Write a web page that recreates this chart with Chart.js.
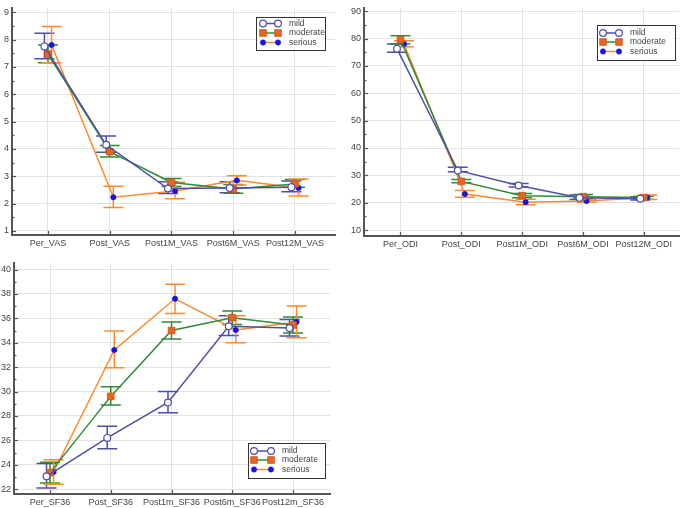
<!DOCTYPE html>
<html><head><meta charset="utf-8">
<script src="https://cdn.jsdelivr.net/npm/chart.js@4.4.1/dist/chart.umd.min.js"></script>
<style>
html,body{margin:0;padding:0;background:#fff;width:685px;height:508px;overflow:hidden}
.p{position:absolute}
</style></head><body>
<div class="p" style="left:0;top:0;width:345px;height:255px"><canvas id="c1" width="345" height="255"></canvas></div>
<div class="p" style="left:340px;top:0;width:345px;height:255px"><canvas id="c2" width="345" height="255"></canvas></div>
<div class="p" style="left:0;top:255px;width:345px;height:253px"><canvas id="c3" width="345" height="253"></canvas></div>
<script>
// ---------- data ----------
const seriesNames = ['mild', 'moderate', 'serious'];

const vasCategories = ['Per_VAS', 'Post_VAS', 'Post1M_VAS', 'Post6M_VAS', 'Post12M_VAS'];
const vasMild = [7.75, 4.15, 2.55, 2.57, 2.6];
const vasMildLow = [7.3, 3.88, 2.37, 2.4, 2.43];
const vasMildHigh = [8.23, 4.47, 2.8, 2.8, 2.83];
const vasModerate = [7.47, 3.9, 2.77, 2.53, 2.72];
const vasModerateLow = [7.15, 3.7, 2.62, 2.38, 2.6];
const vasModerateHigh = [7.8, 4.12, 2.92, 2.7, 2.88];
const vasSerious = [7.8, 2.23, 2.46, 2.85, 2.57];
const vasSeriousLow = [7.15, 1.86, 2.18, 2.68, 2.28];
const vasSeriousHigh = [8.48, 2.63, 2.78, 3.02, 2.9];
const vasTicks = {min: 0.85, max: 9.14, step: 1, minor: 0.5};

const odiCategories = ['Per_ODI', 'Post_ODI', 'Post1M_ODI', 'Post6M_ODI', 'Post12M_ODI'];
const odiMild = [76.3, 31.8, 26.3, 21.8, 21.5];
const odiMildLow = [75, 31.3, 25.8, 21.2, 21];
const odiMildHigh = [78, 33, 27, 22.8, 22.2];
const odiModerate = [79.6, 27.8, 22.6, 22.2, 21.9];
const odiModerateLow = [78, 27.3, 21.8, 21.5, 21.3];
const odiModerateHigh = [81, 28.5, 23.4, 23, 22.4];
const odiSerious = [78, 23.2, 20.2, 20.6, 21.9];
const odiSeriousLow = [77, 22, 19.3, 20.2, 21.2];
const odiSeriousHigh = [79.2, 24.5, 21.3, 21.2, 22.8];
const odiTicks = {min: 7.86, max: 91, step: 10, minor: 5};

const sfCategories = ['Per_SF36', 'Post_SF36', 'Post1m_SF36', 'Post6m_SF36', 'Post12m_SF36'];
const sfMild = [23.05, 26.2, 29.1, 35.35, 35.2];
const sfMildLow = [22.1, 25.3, 28.25, 34.6, 34.55];
const sfMildHigh = [24.1, 27.15, 30, 36.2, 35.9];
const sfModerate = [23.35, 29.6, 35, 36.05, 35.45];
const sfModerateLow = [22.5, 28.9, 34.3, 35.5, 34.8];
const sfModerateHigh = [24.2, 30.4, 35.7, 36.6, 36.1];
const sfSerious = [23.4, 33.4, 37.6, 35.05, 35.7];
const sfSeriousLow = [22.4, 31.95, 36.4, 34, 34.4];
const sfSeriousHigh = [24.4, 34.95, 38.8, 36.2, 37];
const sfTicks = {min: 21.6, max: 40.5, step: 2, minor: 1};

// ---------- styles ----------
const xOffsets = [-0.058, 0, 0.058];
const lineColors = ['#4e4eab', '#2e8b36', '#ff8a2e'];
const markerStyles = [
  {pointStyle: 'circle', radius: 3.4, bg: '#ffffff', border: '#4e4eab', bw: 1.2},
  {pointStyle: 'rect', radius: 4.7, bg: '#ec6420', border: '#c8501a', bw: 0.8},
  {pointStyle: 'circle', radius: 2.7, bg: '#1414e6', border: '#1414e6', bw: 0.5}
];

const FONT = {family: '"Liberation Sans", Arial, sans-serif', size: 9};
const LEGEND_FONT = '8.5px "Liberation Sans", Arial, sans-serif';
const TEXT = '#444444';

function buildDatasets(vals, lows, highs) {
  return vals.map((v, s) => ({
    label: seriesNames[s],
    data: v.map((y, i) => ({x: i + xOffsets[s], y: y})),
    errLow: lows[s], errHigh: highs[s],
    borderColor: lineColors[s], borderWidth: 1.5,
    pointStyle: markerStyles[s].pointStyle,
    pointRadius: markerStyles[s].radius,
    pointBackgroundColor: markerStyles[s].bg,
    pointBorderColor: markerStyles[s].border,
    pointBorderWidth: markerStyles[s].bw,
    tension: 0, fill: false
  }));
}

const errorBars = {
  id: 'errorBars',
  beforeDatasetsDraw(chart) {
    const ctx = chart.ctx, xs = chart.scales.x, ys = chart.scales.y;
    chart.data.datasets.forEach((ds) => {
      ctx.save();
      ctx.strokeStyle = ds.borderColor; ctx.lineWidth = 1.5;
      ds.data.forEach((p, i) => {
        const px = xs.getPixelForValue(p.x);
        const y1 = ys.getPixelForValue(ds.errLow[i]);
        const y2 = ys.getPixelForValue(ds.errHigh[i]);
        ctx.beginPath();
        ctx.moveTo(px, y1); ctx.lineTo(px, y2);
        ctx.moveTo(px - 10, y1); ctx.lineTo(px + 10, y1);
        ctx.moveTo(px - 10, y2); ctx.lineTo(px + 10, y2);
        ctx.stroke();
      });
      ctx.restore();
    });
  }
};

const axisTicks = {
  id: 'axisTicks',
  afterDraw(chart, args, opts) {
    const ctx = chart.ctx, xs = chart.scales.x, ys = chart.scales.y, a = chart.chartArea;
    ctx.save();
    ctx.strokeStyle = '#555'; ctx.lineWidth = 1.2;
    const t = opts.ticks;
    const start = Math.ceil(t.min / t.minor - 1e-9);
    for (let k = start; k * t.minor <= t.max + 1e-9; k++) {
      const v = k * t.minor;
      const py = Math.round(ys.getPixelForValue(v)) + 0.5;
      const major = Math.abs(v / t.step - Math.round(v / t.step)) < 1e-6;
      ctx.beginPath();
      ctx.moveTo(a.left, py); ctx.lineTo(a.left + (major ? 4 : 2.5), py);
      ctx.stroke();
    }
    for (let i = 0; i < opts.n; i++) {
      const px = Math.round(xs.getPixelForValue(i)) + 0.5;
      ctx.beginPath();
      ctx.moveTo(px, a.bottom); ctx.lineTo(px, a.bottom - 4);
      ctx.stroke();
    }
    ctx.restore();
  }
};

const boxLegend = {
  id: 'boxLegend',
  afterDraw(chart, args, o) {
    const ctx = chart.ctx;
    ctx.save();
    ctx.fillStyle = '#fff';
    ctx.fillRect(o.x, o.y, o.w, o.h);
    ctx.strokeStyle = '#333'; ctx.lineWidth = 1;
    ctx.strokeRect(o.x + 0.5, o.y + 0.5, o.w, o.h);
    seriesNames.forEach((name, s) => {
      const yy = o.rows[s];
      ctx.strokeStyle = lineColors[s]; ctx.lineWidth = 1.5;
      ctx.beginPath(); ctx.moveTo(o.m1, yy); ctx.lineTo(o.m2, yy); ctx.stroke();
      const m = markerStyles[s];
      [o.m1, o.m2].forEach(mx => {
        ctx.fillStyle = m.bg; ctx.strokeStyle = m.border; ctx.lineWidth = m.bw;
        Chart.helpers.drawPoint(ctx, {pointStyle: m.pointStyle, radius: m.radius, borderWidth: m.bw, rotation: 0}, mx, yy);
      });
      ctx.fillStyle = TEXT;
      ctx.font = LEGEND_FONT;
      ctx.textBaseline = 'middle';
      ctx.fillText(name, o.tx, yy);
    });
    ctx.restore();
  }
};

function makeChart(id, cats, datasets, t, geo, legend) {
  new Chart(document.getElementById(id), {
    type: 'line',
    data: {datasets: datasets},
    options: {
      responsive: false, animation: false, events: [],
      layout: {padding: {left: 0, right: geo.padRight, top: geo.padTop, bottom: 0}},
      plugins: {legend: {display: false}, tooltip: {enabled: false},
        axisTicks: {ticks: t, n: cats.length}, boxLegend: legend},
      scales: {
        x: {
          type: 'linear', min: geo.xmin, max: geo.xmax,
          afterBuildTicks: sc => { sc.ticks = cats.map((c, i) => ({value: i})); },
          afterFit: sc => { sc.height = geo.xh; },
          ticks: {callback: v => cats[v], autoSkip: false, maxRotation: 0, minRotation: 0,
                  font: FONT, color: TEXT, padding: 3},
          grid: {color: '#e2e2e2', lineWidth: 1, drawTicks: false},
          border: {display: true, color: '#555', width: 2}
        },
        y: {
          type: 'linear', min: t.min, max: t.max,
          afterFit: sc => { sc.width = geo.yw; },
          ticks: {stepSize: t.step, includeBounds: false, font: FONT, color: TEXT, padding: 3},
          grid: {color: '#e2e2e2', lineWidth: 1, drawTicks: false},
          border: {display: true, color: '#555', width: 2}
        }
      }
    },
    plugins: [errorBars, axisTicks, boxLegend]
  });
}

makeChart('c1', vasCategories,
  buildDatasets([vasMild, vasModerate, vasSerious], [vasMildLow, vasModerateLow, vasSeriousLow], [vasMildHigh, vasModerateHigh, vasSeriousHigh]),
  vasTicks, {xmin: -0.583, xmax: 4.648, xh: 20, yw: 12, padRight: 10, padTop: 3},
  {x: 256, y: 17, w: 69, h: 33, rows: [23.5, 33, 42.5], m1: 263, m2: 278, tx: 289});

makeChart('c2', odiCategories,
  buildDatasets([odiMild, odiModerate, odiSerious], [odiMildLow, odiModerateLow, odiSeriousLow], [odiMildHigh, odiModerateHigh, odiSeriousHigh]),
  odiTicks, {xmin: -0.6, xmax: 4.587, xh: 19, yw: 24, padRight: 3, padTop: 3},
  {x: 257, y: 25, w: 78, h: 35, rows: [33, 42, 51.5], m1: 263, m2: 279, tx: 290});

makeChart('c3', sfCategories,
  buildDatasets([sfMild, sfModerate, sfSerious], [sfMildLow, sfModerateLow, sfSeriousLow], [sfMildHigh, sfModerateHigh, sfSeriousHigh]),
  sfTicks, {xmin: -0.593, xmax: 4.609, xh: 14, yw: 14, padRight: 15, padTop: 6},
  {x: 248, y: 188, w: 77, h: 35, rows: [196, 205, 214.5], m1: 254, m2: 271, tx: 282});
</script>
</body></html>
